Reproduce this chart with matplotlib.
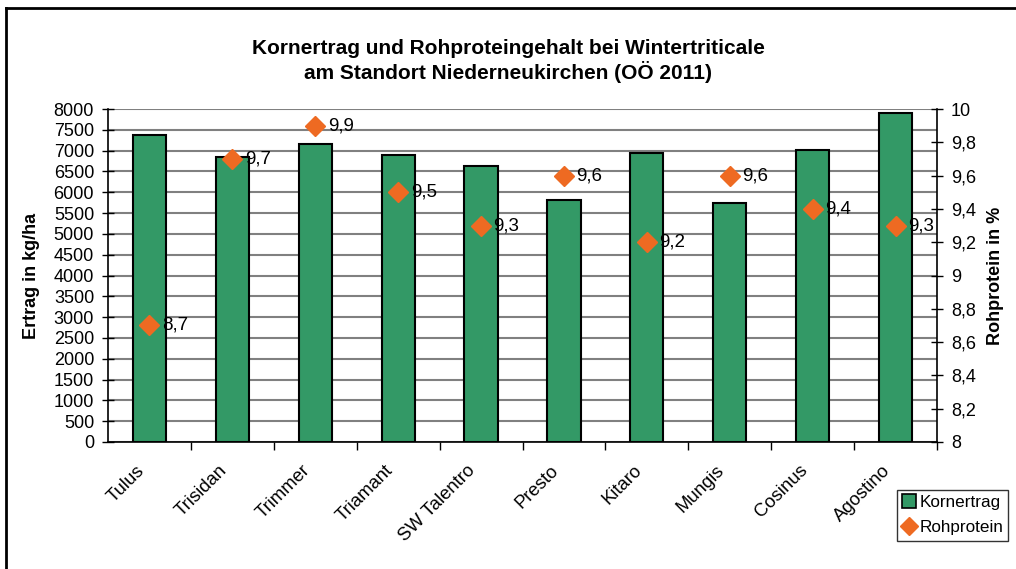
import matplotlib
matplotlib.use("Agg")
import matplotlib.pyplot as plt
import matplotlib.transforms as mtransforms
from matplotlib.lines import Line2D
from matplotlib.ticker import FixedLocator

plt.rcParams['font.family'] = ['Liberation Sans', 'DejaVu Sans']

categories = ["Tulus", "Trisidan", "Trimmer", "Triamant", "SW Talentro",
              "Presto", "Kitaro", "Mungis", "Cosinus", "Agostino"]
ertrag = [7375, 6850, 7160, 6890, 6630, 5810, 6940, 5750, 7020, 7910]
protein = [8.7, 9.7, 9.9, 9.5, 9.3, 9.6, 9.2, 9.6, 9.4, 9.3]
left_ticks = list(range(0, 8001, 500))
right_ticks = [8, 8.2, 8.4, 8.6, 8.8, 9, 9.2, 9.4, 9.6, 9.8, 10]

bar_color = "#339966"
marker_color = "#EE6A22"

fig = plt.figure(figsize=(10.16, 5.69), dpi=100)
ax = fig.add_axes([108/1016, 1-442/569, (937-108)/1016, (442-109)/569])

x = list(range(len(categories)))
ax.bar(x, ertrag, width=0.4, color=bar_color, edgecolor="black", linewidth=1.5, zorder=3)
ax.set_xlim(-0.5, len(categories)-0.5)
ax.set_ylim(0, 8000)
ax.yaxis.set_major_locator(FixedLocator(left_ticks))
ax.set_yticklabels([str(t) for t in left_ticks], fontsize=13)
ax.grid(axis='y', color="#808080", linewidth=1.5, zorder=0)
ax.set_axisbelow(True)
ax.set_xticks(x)
ax.set_xticklabels(categories, rotation=45, ha='right', rotation_mode='anchor', fontsize=13.3)
ax.tick_params(axis='x', which='major', length=0, pad=13)
offset = mtransforms.ScaledTranslation(-14/100, -2/100, fig.dpi_scale_trans)
for lab in ax.get_xticklabels():
    lab.set_transform(lab.get_transform() + offset)
ax.set_xticks([i + 0.5 for i in x], minor=True)
ax.tick_params(axis='x', which='minor', length=6, direction='out', width=1)
ax.tick_params(axis='y', length=8, direction='inout', width=1, pad=6)
ax.spines['top'].set_visible(False)
ax.spines['right'].set_visible(False)
for s in ['left', 'bottom']:
    ax.spines[s].set_linewidth(1.2)
ax.set_ylabel("Ertrag in kg/ha", fontsize=13, fontweight='bold', labelpad=10)

ax2 = ax.twinx()
ax2.set_ylim(8, 10)
ax2.yaxis.set_major_locator(FixedLocator(right_ticks))
ax2.set_yticklabels([("%g" % t).replace('.', ',') for t in right_ticks], fontsize=13)
ax2.tick_params(axis='y', length=8, direction='inout', width=1, pad=6)
ax2.spines['top'].set_visible(False)
ax2.spines['left'].set_visible(False)
ax2.spines['bottom'].set_visible(False)
ax2.spines['right'].set_linewidth(1.2)
ax2.plot(x, protein, linestyle='none', marker='D', markersize=10, color=marker_color, zorder=5)
for xi, p in zip(x, protein):
    ax2.annotate(("%g" % p).replace('.', ','), (xi, p), xytext=(9, 0), textcoords='offset points',
                 va='center', ha='left', fontsize=13.5)
ax2.set_ylabel("Rohprotein in %", fontsize=13, fontweight='bold', labelpad=8)

fig.text(0.5, 1-61/569, "Kornertrag und Rohproteingehalt bei Wintertriticale\nam Standort Niederneukirchen (OÖ 2011)",
         ha='center', va='center', fontsize=15, fontweight='bold', linespacing=1.2)

handles = [Line2D([0], [0], marker='s', linestyle='none', markersize=10, markerfacecolor=bar_color,
                  markeredgecolor='black', markeredgewidth=1.2),
           Line2D([0], [0], marker='D', linestyle='none', markersize=9, color=marker_color)]
leg = fig.legend(handles, ["Kornertrag", "Rohprotein"], loc='upper left',
                 bbox_to_anchor=(897/1016, 1-490/569), fontsize=12.3, frameon=True, fancybox=False,
                 edgecolor='black', handlelength=0.8, handletextpad=0.2, borderpad=0.3,
                 labelspacing=0.6, borderaxespad=0)
leg.get_frame().set_linewidth(1)

# figure frame
fig.add_artist(Line2D([6/1016, 6/1016], [0, 1-8/569], transform=fig.transFigure, color='black', linewidth=2))
fig.add_artist(Line2D([6/1016, 1], [1-8/569, 1-8/569], transform=fig.transFigure, color='black', linewidth=2))

fig.savefig("out.png", dpi=100)
